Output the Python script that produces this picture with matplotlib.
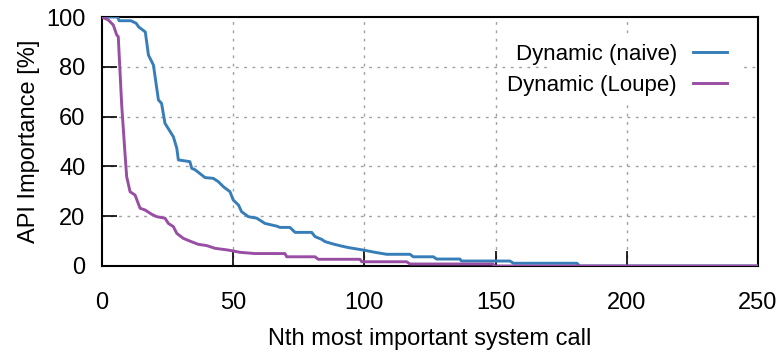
import numpy as np
import matplotlib
matplotlib.use('Agg')
import matplotlib.pyplot as plt
from matplotlib.patches import Rectangle

# ranked system calls vs. importance
naive_x = [0, 6, 6.5, 11, 13, 14, 16.5, 17.7, 19.6, 21.5, 22.7, 24, 27.2, 28.5, 29.1,
           33.5, 34.2, 35.4, 39.3, 42.4, 44.3, 46.2, 48.8, 50, 52, 53.2, 55.8, 59,
           62.1, 66.6, 67.8, 71.6, 73.6, 79.9, 81.2, 83.7, 85, 88.2, 91.3, 93.9, 99.6,
           104, 108.5, 117.4, 118.6, 126.3, 127.5, 136.4, 137, 155.5, 156.8, 181, 182, 250]
naive_y = [100, 100, 98.5, 98.5, 97.5, 96, 94, 84.7, 80.7, 66.7, 65.3, 57.3, 51.9, 47.3, 42.6,
           41.9, 39.2, 38.7, 35.5, 35.2, 33.9, 31.9, 29.8, 26.5, 24.5, 21.8, 19.8, 19.2,
           17.1, 16.0, 15.5, 15.5, 13.5, 13.5, 11.8, 10.7, 9.8, 8.8, 8.0, 7.4, 6.4,
           5.5, 4.7, 4.7, 3.7, 3.7, 2.8, 2.8, 2.0, 2.0, 1.1, 1.1, 0, 0]

loupe_x = [0, 2.4, 4.3, 5.6, 6.2, 7.5, 8.8, 9.4, 10.7, 12.6, 14.5, 16.4, 18.9, 20.9, 24,
           25.3, 27.2, 28.5, 31, 33.5, 36.7, 39.9, 43.1, 48.1, 52.6, 58.3, 69.7, 70.4,
           81.2, 82.4, 98.3, 99, 116.1, 117.4, 149, 149.5, 250]
loupe_y = [100, 98.8, 96.8, 92.8, 92.1, 64.7, 44.6, 35.9, 29.8, 28.5, 23.2, 22.5, 20.8, 19.8, 19.2,
           17.1, 15.8, 13.1, 11.1, 10.0, 8.7, 8.2, 7.1, 6.4, 5.5, 5.0, 5.0, 3.7,
           3.7, 2.7, 2.7, 1.7, 1.7, 0.8, 0.8, 0, 0]

labels = ['Dynamic (naive)', 'Dynamic (Loupe)']
colors = ['#377eb8', '#984ea3']
xticks = [0, 50, 100, 150, 200, 250]
yticks = [0, 20, 40, 60, 80, 100]

plt.rcParams['font.family'] = ['Liberation Sans', 'DejaVu Sans']
plt.rcParams['font.size'] = 17

fig = plt.figure(figsize=(7.8, 3.53), dpi=100)
ax = fig.add_axes([102 / 780, 87 / 353, 656 / 780, 249 / 353])

ax.plot(naive_x, naive_y, color=colors[0], lw=2.1, label=labels[0], zorder=3)
ax.plot(loupe_x, loupe_y, color=colors[1], lw=2.1, label=labels[1], zorder=3)

ax.set_xlim(0, 250)
ax.set_ylim(0, 100)
ax.set_xticks(xticks)
ax.set_yticks(yticks)

for v in xticks[1:-1]:
    ax.axvline(v, color='#a0a0a0', lw=1, ls=(0, (2, 4)), zorder=1)
for v in yticks[1:-1]:
    ax.axhline(v, color='#a0a0a0', lw=1, ls=(0, (2, 4)), zorder=1)

ax.tick_params(direction='in', length=11, width=1.2, top=False, right=False, labelsize=17)
ax.tick_params(axis='x', pad=19)
ax.tick_params(axis='y', pad=12)
for s in ax.spines.values():
    s.set_linewidth(1.5)

ax.set_xlabel('Nth most important system call', labelpad=10)
ax.set_ylabel('API Importance [%]', labelpad=4)

# opaque key box like gnuplot's
ax.add_patch(Rectangle(((552 - 102) / 656, (266 - 100) / 249), 191 / 656, 65 / 249,
                       transform=ax.transAxes, facecolor='white', edgecolor='none', zorder=2))
leg = ax.legend(loc='upper right', bbox_to_anchor=((727 - 102) / 656, (266 - 44) / 249),
                frameon=False, markerfirst=False, handlelength=1.53, handletextpad=0.72,
                borderpad=0, borderaxespad=0, labelspacing=0.45, fontsize=16)
for t in leg.get_texts():
    t.set_ha('right')

fig.savefig('out.png', dpi=100)
